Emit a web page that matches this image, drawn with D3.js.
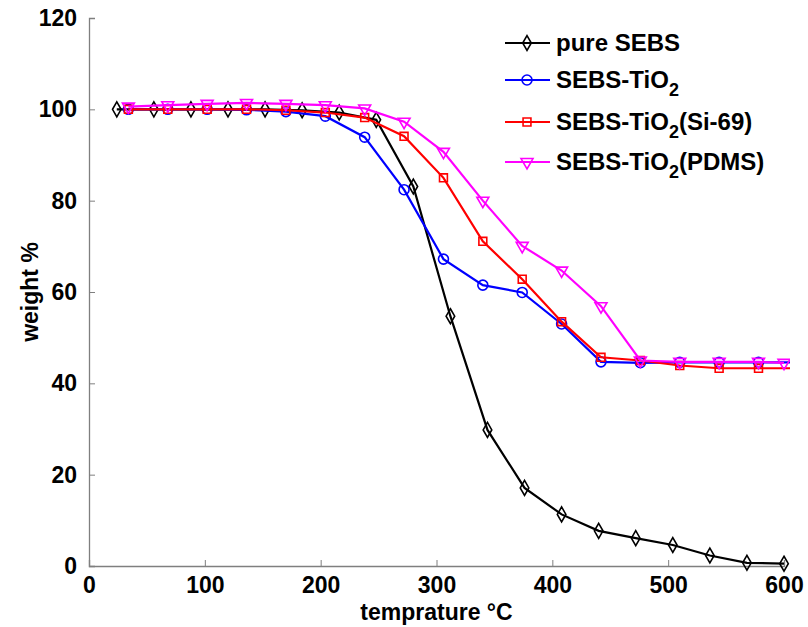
<!DOCTYPE html>
<html>
<head>
<meta charset="utf-8">
<script src="https://cdn.jsdelivr.net/npm/d3@7"></script>
<style>
  body { margin: 0; background: #fff; }
  text { font-family: "Liberation Sans", Arial, sans-serif; font-weight: bold; }
</style>
</head>
<body>
<div id="chart"></div>
<script>
// temperatures (°C)
const tempPure = [24, 56, 88, 120, 152, 184, 216, 248, 280, 312, 344, 376, 408, 440, 472, 504, 536, 568, 600]
const tempComp = [34, 68, 102, 136, 170, 204, 238, 272, 306, 340, 374, 408, 442, 476, 510, 544, 578, 612]
const tempPdms = [34, 68, 102, 136, 170, 204, 238, 272, 306, 340, 374, 408, 442, 476, 510, 544, 578, 600]

// weight %
const pureSEBS = [100, 100, 100, 100, 100, 99.8, 99.3, 97.7, 83.1, 54.7, 29.8, 17.1, 11.3, 7.7, 6.1, 4.6, 2.3, 0.7, 0.5]
const sebsTiO2 = [100, 100, 100, 99.9, 99.5, 98.5, 93.9, 82.4, 67.2, 61.5, 59.9, 53.0, 44.7, 44.5, 44.6, 44.6, 44.6, 44.6]
const sebsSi69 = [100, 100, 100, 100, 99.8, 99.3, 98.2, 94.1, 85.0, 71.1, 62.8, 53.5, 45.7, 45.0, 43.9, 43.3, 43.3, 43.3]
const sebsPdms = [100.6, 100.9, 101.2, 101.4, 101.2, 100.9, 100.2, 97.3, 90.7, 80.0, 70.1, 64.7, 56.9, 45.0, 44.7, 44.7, 44.7, 44.5]

const xTicks = [0, 100, 200, 300, 400, 500, 600]
const yTicks = [0, 20, 40, 60, 80, 100, 120]

const series = [
    {name: "pure SEBS", sub: null, tail: "", x: tempPure, y: pureSEBS, color: "#000000", marker: "diamond"},
    {name: "SEBS-TiO", sub: "2", tail: "", x: tempComp, y: sebsTiO2, color: "#0000ff", marker: "circle"},
    {name: "SEBS-TiO", sub: "2", tail: "(Si-69)", x: tempComp, y: sebsSi69, color: "#ff0000", marker: "square"},
    {name: "SEBS-TiO", sub: "2", tail: "(PDMS)", x: tempPdms, y: sebsPdms, color: "#ff00ff", marker: "triangle"}
]

const W = 808, H = 627
const margin = {top: 18, right: 24, bottom: 61, left: 89}
const width = W - margin.left - margin.right
const height = H - margin.top - margin.bottom

const svg = d3.select("#chart").append("svg")
    .attr("width", W).attr("height", H)

// lines past 600 °C are cut at the axis edge
svg.append("defs").append("clipPath").attr("id", "plotClip")
    .append("rect").attr("x", 0).attr("y", -10).attr("width", width + 6).attr("height", height + 20)

const g = svg.append("g").attr("transform", "translate(" + margin.left + "," + margin.top + ")")

const x = d3.scaleLinear().domain([0, 600]).range([0, width])
const y = d3.scaleLinear().domain([0, 120]).range([height, 0])

// axes
const xAxis = g.append("g")
    .attr("transform", "translate(0," + height + ")")
    .call(d3.axisBottom(x).tickValues(xTicks).tickSize(-6).tickPadding(11))
const yAxis = g.append("g")
    .call(d3.axisLeft(y).tickValues(yTicks).tickSize(-6).tickPadding(12))

;[xAxis, yAxis].forEach(a => {
    a.select(".domain").attr("stroke", "#7f7f7f").attr("stroke-width", 1.3)
    a.selectAll(".tick line").attr("stroke", "#7f7f7f")
    a.selectAll("text").attr("font-size", 23).attr("fill", "#000")
        .style("font-family", "'Liberation Sans', Arial, sans-serif").style("font-weight", "bold")
})

// axis titles
svg.append("text")
    .attr("x", margin.left + x(300)).attr("y", 620)
    .attr("text-anchor", "middle").attr("font-size", 23)
    .text("temprature °C")
svg.append("text")
    .attr("transform", "translate(38," + (margin.top + y(60)) + ") rotate(-90)")
    .attr("text-anchor", "middle").attr("font-size", 23)
    .text("weight %")

const symbols = {
    diamond: d3.symbol().type(d3.symbolDiamond).size(64),
    circle: d3.symbol().type(d3.symbolCircle).size(78),
    square: d3.symbol().type(d3.symbolSquare).size(62),
    triangle: d3.symbol().type(d3.symbolTriangle).size(62)
}

function drawMarker(sel, s, px, py) {
    sel.append("path")
        .attr("d", symbols[s.marker]())
        .attr("transform", "translate(" + px + "," + py + ")" + (s.marker === "triangle" ? " rotate(180)" : ""))
        .attr("fill", "none")
        .attr("stroke", s.color)
        .attr("stroke-width", 1.6)
}

const line = d3.line()
const plot = g.append("g").attr("clip-path", "url(#plotClip)")

series.forEach(s => {
    const pts = s.x.map((t, i) => [x(t), y(s.y[i])])
    plot.append("path")
        .attr("d", line(pts))
        .attr("fill", "none")
        .attr("stroke", s.color)
        .attr("stroke-width", 2.2)
    const mg = plot.append("g")
    pts.forEach(p => {
        if (p[0] <= width + 1) drawMarker(mg, s, p[0], p[1])
    })
})

// legend
const legendRows = [43, 80, 122, 162]
const leg = svg.append("g")
series.forEach((s, i) => {
    const ly = legendRows[i]
    leg.append("line")
        .attr("x1", 505).attr("x2", 550).attr("y1", ly).attr("y2", ly)
        .attr("stroke", s.color).attr("stroke-width", 2.2)
    drawMarker(leg, s, 527, ly)
    const t = leg.append("text")
        .attr("x", 556).attr("y", ly + 8)
        .attr("font-size", 24)
        .attr("fill", "#000")
    t.append("tspan").text(s.name)
    if (s.sub) {
        t.append("tspan").attr("font-size", 18).attr("dy", 8).text(s.sub)
        t.append("tspan").attr("dy", -8).text(s.tail)
    }
})
</script>
</body>
</html>
